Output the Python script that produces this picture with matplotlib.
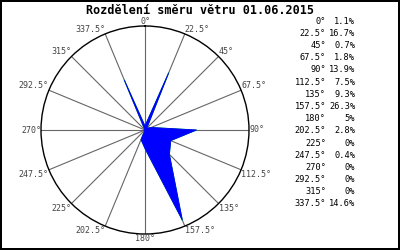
import numpy as np
import matplotlib.pyplot as plt

directions = [0, 22.5, 45, 67.5, 90, 112.5, 135, 157.5, 180, 202.5, 225, 247.5, 270, 292.5, 315, 337.5]
dir_labels = ["0°", "22.5°", "45°", "67.5°", "90°", "112.5°", "135°", "157.5°",
              "180°", "202.5°", "225°", "247.5°", "270°", "292.5°", "315°", "337.5°"]
percent = [1.1, 16.7, 0.7, 1.8, 13.9, 7.5, 9.3, 26.3, 5, 2.8, 0, 0.4, 0, 0, 0, 14.6]
percent_labels = ["1.1%", "16.7%", "0.7%", "1.8%", "13.9%", "7.5%", "9.3%", "26.3%",
                  "5%", "2.8%", "0%", "0.4%", "0%", "0%", "0%", "14.6%"]

mono = "DejaVu Sans Mono"
rmax = 28

fig = plt.figure(figsize=(4, 2.5), dpi=100)
fig.patch.set_edgecolor("black")
fig.patch.set_linewidth(1.5)

ax = fig.add_axes([0.1025, 0.064, 0.52, 0.832], projection="polar")
ax.set_theta_zero_location("N")
ax.set_theta_direction(-1)

theta = np.deg2rad(np.append(directions, directions[0]))
r = np.append(percent, percent[0])
ax.plot(theta, r, color="#00e000", linewidth=0.6, zorder=2)
ax.fill(theta, r, facecolor="blue", edgecolor="blue", linewidth=0.6, zorder=3)

ax.set_ylim(0, rmax)
ax.set_yticks([])
ax.set_thetagrids(directions, [""] * len(directions))
ax.xaxis.grid(True, color="#666666", linewidth=0.8)
ax.spines["polar"].set_color("black")
ax.spines["polar"].set_linewidth(1)

# direction labels anchored at the spoke ends
for a, lab in zip(directions, dir_labels):
    if a == 0 or a == 180:
        ha = "center"
    elif a < 180:
        ha = "left"
    else:
        ha = "right"
    if a == 90 or a == 270:
        va = "center"
    elif 90 < a < 270:
        va = "top"
    else:
        va = "bottom"
    ax.text(np.deg2rad(a), rmax, lab, ha=ha, va=va, fontsize=6, family=mono,
            color="#444444", clip_on=False)

fig.text(0.5, 0.96, "Rozdělení směru větru 01.06.2015", ha="center", va="center",
         fontsize=8.5, family=mono, fontweight="bold")

for i in range(len(directions)):
    y = 1 - (21 + i * 12.2) / 250
    fig.text(0.815, y, dir_labels[i], ha="right", va="center", fontsize=6.2, family=mono)
    fig.text(0.888, y, percent_labels[i], ha="right", va="center", fontsize=6.2, family=mono)

fig.savefig("out.png", dpi=100, edgecolor=fig.get_edgecolor())
